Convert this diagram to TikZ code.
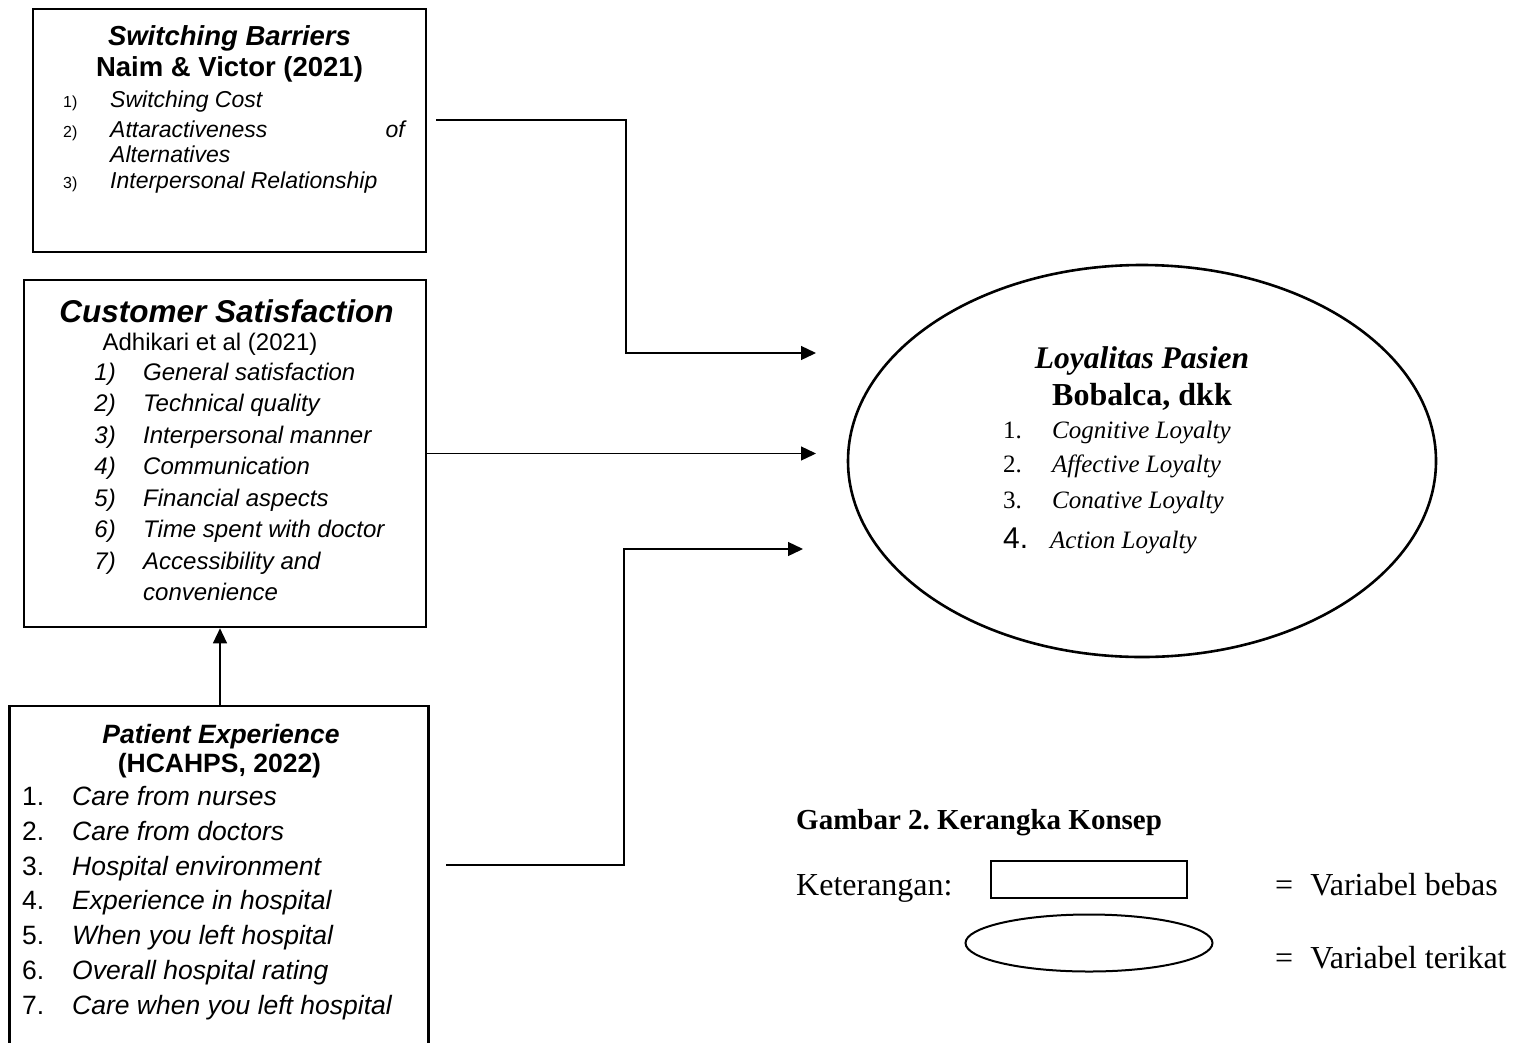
\documentclass[tikz,border=0pt]{standalone}
\usepackage{fontspec}
\setmainfont{Liberation Serif}
\setsansfont{Liberation Sans}
\usetikzlibrary{arrows.meta,shapes.geometric}
\newcommand\fsz[1]{\fontsize{#1bp}{#1bp}\selectfont}
\frenchspacing
\begin{document}
\begin{tikzpicture}[x=1bp,y=-1bp,
  box/.style={draw, line width=2.6bp, inner sep=0, rectangle},
  conn/.style={line width=1.3bp},
  arr/.style={conn, -{Triangle[length=15bp,width=14bp]}},
  tw/.style={inner sep=0, anchor=base west},
  te/.style={inner sep=0, anchor=base east},
  tc/.style={inner sep=0, anchor=base},
  sbtitle/.style={font=\sffamily\bfseries\itshape\fsz{27.5}},
  sbsub/.style={font=\sffamily\bfseries\fsz{27.5}},
  sbnum/.style={font=\sffamily\fsz{16}},
  sbitem/.style={font=\sffamily\itshape\fsz{23}},
  cstitle/.style={font=\sffamily\bfseries\itshape\fsz{31.5}},
  cssub/.style={font=\sffamily\fsz{24}},
  csitem/.style={font=\sffamily\itshape\fsz{24}},
  petitle/.style={font=\sffamily\bfseries\itshape\fsz{26.5}},
  pesub/.style={font=\sffamily\bfseries\fsz{26.5}},
  penum/.style={font=\sffamily\fsz{26.5}},
  peitem/.style={font=\sffamily\itshape\fsz{26.5}},
  lptitle/.style={font=\rmfamily\bfseries\itshape\fsz{31.5}},
  lpsub/.style={font=\rmfamily\bfseries\fsz{32}},
  lpnum/.style={font=\rmfamily\fsz{25}},
  lpitem/.style={font=\rmfamily\itshape\fsz{25}},
  lgtxt/.style={font=\rmfamily\fsz{32}},
  lgcap/.style={font=\rmfamily\bfseries\fsz{29}}]
\useasboundingbox (0,0) rectangle (1517,1042);

% ---------- Box 1: Switching Barriers ----------
\node[box, minimum width=393bp, minimum height=243bp] (b1) at (229.5,130.5) {};
\node[tc, sbtitle] (b1t) at (229.5,45) {Switching Barriers};
\node[tc, sbsub] (b1s) at (229.5,76) {Naim \& Victor (2021)};
\node[tw, sbnum] (b1n1) at (63,107) {1)};
\node[tw, sbitem] (b1i1) at (110,107) {Switching Cost};
\node[tw, sbnum] (b1n2) at (63,137) {2)};
\node[tw, sbitem] (b1i2) at (110,137) {Attaractiveness};
\node[te, sbitem] (b1i2b) at (405,137) {of};
\node[tw, sbitem] (b1i2c) at (110,162) {Alternatives};
\node[tw, sbnum] (b1n3) at (63,188) {3)};
\node[tw, sbitem] (b1i3) at (110,188) {Interpersonal Relationship};

% ---------- Box 2: Customer Satisfaction ----------
\node[box, minimum width=402bp, minimum height=347bp] (b2) at (225,453.5) {};
\node[tc, cstitle] (b2t) at (226.5,322) {Customer Satisfaction};
\node[tc, cssub] (b2s) at (210,350) {Adhikari et al (2021)};
\foreach \n/\t/\y in {1/General satisfaction/380, 2/Technical quality/411.5, 3/Interpersonal manner/443, 4/Communication/474.5, 5/Financial aspects/506, 6/Time spent with doctor/537.5, 7/Accessibility and/569}{
  \node[te, csitem] (b2n\n) at (116,\y) {\n)};
  \node[tw, csitem] (b2i\n) at (143,\y) {\t};
}
\node[tw, csitem] (b2i7b) at (143,600.5) {convenience};

% ---------- Box 3: Patient Experience (open at the bottom) ----------
\node[minimum width=418bp, minimum height=344bp, inner sep=0] (b3) at (219,878) {};
\draw[line width=2.6bp] (b3.south west) -- (b3.north west) -- (b3.north east) -- (b3.south east);
\node[tc, petitle] (b3t) at (221,743) {Patient Experience};
\node[tc, pesub] (b3s) at (219.5,772) {(HCAHPS, 2022)};
\foreach \n/\t/\y in {1/Care from nurses/805, 2/Care from doctors/840, 3/Hospital environment/875, 4/Experience in hospital/909.5, 5/When you left hospital/944, 6/Overall hospital rating/979, 7/Care when you left hospital/1014}{
  \node[tw, penum] (b3n\n) at (22,\y) {\n.};
  \node[tw, peitem] (b3i\n) at (72,\y) {\t};
}

% ---------- Ellipse: Loyalitas Pasien ----------
\node[draw, ellipse, line width=2.6bp, inner sep=0, minimum width=588bp, minimum height=392bp] (lp) at (1142,461) {};
\node[tc, lptitle] (lpt) at (1142,368) {Loyalitas Pasien};
\node[tc, lpsub] (lps) at (1142,405) {Bobalca, dkk};
\node[tw, lpnum] (lpn1) at (1003,438) {1.};
\node[tw, lpitem] (lpi1) at (1052,438) {Cognitive Loyalty};
\node[tw, lpnum] (lpn2) at (1003,472) {2.};
\node[tw, lpitem] (lpi2) at (1052,472) {Affective Loyalty};
\node[tw, lpnum] (lpn3) at (1003,508) {3.};
\node[tw, lpitem] (lpi3) at (1052,508) {Conative Loyalty};
\node[tw, font=\sffamily\fsz{30}] (lpn4) at (1003,548) {4.};
\node[tw, lpitem] (lpi4) at (1050,548) {Action Loyalty};

% ---------- Connectors ----------
\coordinate (s1) at (436,120);
\coordinate (k1) at (626,120);
\coordinate (t1) at (816,353);
\draw[arr] (s1) -- (k1) |- (t1);

\coordinate (t2) at (816,454);
\draw[arr] (b2.east) -- (b2.east -| t2);

\coordinate (s3) at (446,865);
\coordinate (k3) at (624,865);
\coordinate (t3) at (803,549);
\draw[arr] (s3) -- (k3) |- (t3);

\coordinate (ax) at (220,0);
\draw[arr] (b3.north -| ax) -- (b2.south -| ax);

% ---------- Legend ----------
\node[tw, lgcap] (cap) at (796,829) {Gambar 2.\ Kerangka Konsep};
\node[tw, lgtxt] (ket) at (796,895) {Keterangan:};
\node[draw, line width=2bp, inner sep=0, minimum width=196bp, minimum height=37bp] (lgr) at (1089,879.5) {};
\node[draw, ellipse, line width=2bp, inner sep=0, minimum width=247bp, minimum height=57bp] (lge) at (1089,943) {};
\node[tw, lgtxt] (lgrt) at (1275,895) {=\hspace{17bp}Variabel bebas};
\node[tw, lgtxt] (lget) at (1275,968) {=\hspace{17bp}Variabel terikat};
\end{tikzpicture}
\end{document}
